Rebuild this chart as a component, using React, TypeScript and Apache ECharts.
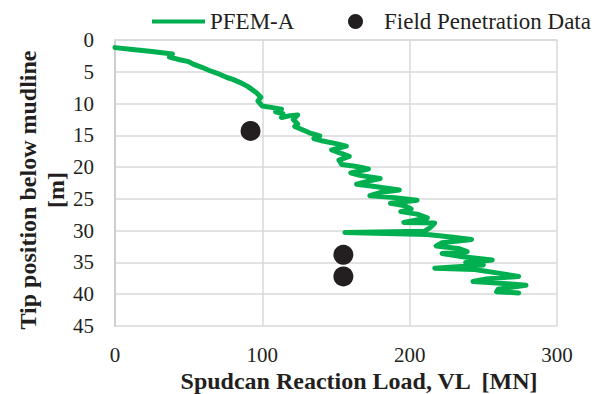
import React, { useEffect, useRef } from "react";
import * as echarts from "echarts";

const pfemLoad = [
  0, 12, 25, 39, 37, 44, 50, 53, 59, 64, 69, 76, 80, 85, 90, 96, 99, 97, 100, 106,
  113, 109, 114, 113, 119, 124, 121, 124, 122, 128, 132, 139, 135, 141, 150, 157, 147, 153, 159, 152,
  154, 164, 172, 160, 166, 180, 172, 164, 175, 193, 180, 173, 190, 205, 187, 197, 201, 194, 205, 212,
  196, 217, 214, 210, 156, 212, 228, 242, 222, 218, 233, 239, 222, 236, 256, 238, 250, 217, 244, 258,
  274, 252, 243, 264, 279, 260, 259, 274,
];
const pfemDepth = [
  1.2, 1.5, 1.8, 2.2, 2.7, 3.1, 3.4, 3.8, 4.3, 4.8, 5.2, 5.9, 6.2, 6.7, 7.3, 8.3, 9.0, 9.6, 10.4, 10.6,
  10.9, 11.3, 11.6, 12.2, 11.9, 11.8, 12.5, 13.2, 13.6, 14.2, 14.6, 15.1, 15.5, 15.9, 16.3, 16.7, 17.3, 17.8, 18.3, 18.9,
  19.6, 19.9, 20.3, 20.9, 21.3, 21.8, 22.2, 22.7, 23.0, 23.6, 24.0, 24.5, 24.8, 25.2, 25.7, 26.1, 26.6, 27.0, 27.4, 28.0,
  28.7, 28.8, 29.5, 30.1, 30.3, 30.6, 31.0, 31.4, 31.9, 32.4, 32.8, 33.3, 33.6, 34.1, 34.6, 35.0, 35.4, 35.9, 36.1, 36.6,
  37.2, 37.6, 38.0, 38.3, 38.6, 39.2, 39.6, 39.8,
];
const fieldLoad = [92, 155, 155];
const fieldDepth = [14.3, 33.8, 37.2];

const xTicks = [0, 100, 200, 300];
const yTicks = [0, 5, 10, 15, 20, 25, 30, 35, 40, 45];

const FONT = "'Liberation Serif', 'Times New Roman', serif";
const INK = "#231f20";
const GREEN = "#00b050";

export default function App() {
  const ref = useRef<HTMLDivElement>(null);
  useEffect(() => {
    if (!ref.current) return;
    const chart = echarts.init(ref.current, null, { renderer: "svg" });
    chart.setOption({
      animation: false,
      backgroundColor: "#ffffff",
      textStyle: { fontFamily: FONT },
      grid: { left: 115, right: 50, top: 40, bottom: 68, containLabel: false },
      legend: [
        {
          left: 147,
          top: 5,
          itemWidth: 53,
          itemHeight: 4,
          icon: "rect",
          textStyle: { fontFamily: FONT, fontSize: 23, color: INK },
          data: [{ name: "PFEM-A", itemStyle: { color: GREEN } }],
        },
        {
          left: 343,
          top: 5,
          itemWidth: 15,
          itemHeight: 15,
          icon: "circle",
          textStyle: { fontFamily: FONT, fontSize: 23, color: INK, padding: [0, 0, 0, 16] },
          data: [{ name: "Field Penetration Data", itemStyle: { color: INK } }],
        },
      ],
      xAxis: {
        type: "value",
        min: xTicks[0],
        max: xTicks[xTicks.length - 1],
        interval: 100,
        axisLine: { show: true, lineStyle: { color: "#d9d9d9", width: 1.5 } },
        axisTick: { show: false },
        splitLine: { show: true, lineStyle: { color: "#d9d9d9", width: 1.5 } },
        axisLabel: { fontFamily: FONT, fontSize: 21, color: INK, margin: 18 },
      },
      yAxis: {
        type: "value",
        inverse: true,
        min: yTicks[0],
        max: yTicks[yTicks.length - 1],
        interval: 5,
        axisLine: { show: true, lineStyle: { color: "#cfcfcf", width: 2 } },
        axisTick: { show: false },
        splitLine: { show: true, lineStyle: { color: "#d9d9d9", width: 1.5 } },
        axisLabel: { fontFamily: FONT, fontSize: 21, color: INK, margin: 21 },
      },
      graphic: [
        {
          type: "text",
          x: 359,
          y: 381,
          style: {
            text: "Spudcan Reaction Load, VL  [MN]",
            font: `bold 24px ${FONT}`,
            fill: INK,
            align: "center",
            verticalAlign: "middle",
          },
        },
        {
          type: "text",
          x: 28,
          y: 190,
          rotation: Math.PI / 2,
          style: {
            text: "Tip position below mudline",
            font: `bold 24px ${FONT}`,
            fill: INK,
            align: "center",
            verticalAlign: "middle",
          },
        },
        {
          type: "text",
          x: 56,
          y: 190,
          rotation: Math.PI / 2,
          style: {
            text: "[m]",
            font: `bold 24px ${FONT}`,
            fill: INK,
            align: "center",
            verticalAlign: "middle",
          },
        },
      ],
      series: [
        {
          name: "PFEM-A",
          type: "line",
          data: pfemLoad.map((x, i) => [x, pfemDepth[i]]),
          showSymbol: false,
          symbol: "none",
          lineStyle: { color: GREEN, width: 5, join: "round", cap: "round" },
          itemStyle: { color: GREEN },
          z: 3,
        },
        {
          name: "Field Penetration Data",
          type: "scatter",
          data: fieldLoad.map((x, i) => [x, fieldDepth[i]]),
          symbol: "circle",
          symbolSize: 20,
          itemStyle: { color: INK, opacity: 1 },
          z: 4,
        },
      ],
    });
    return () => chart.dispose();
  }, []);
  return <div ref={ref} style={{ width: 607, height: 394, position: "absolute", left: 0, top: 0 }} />;
}
